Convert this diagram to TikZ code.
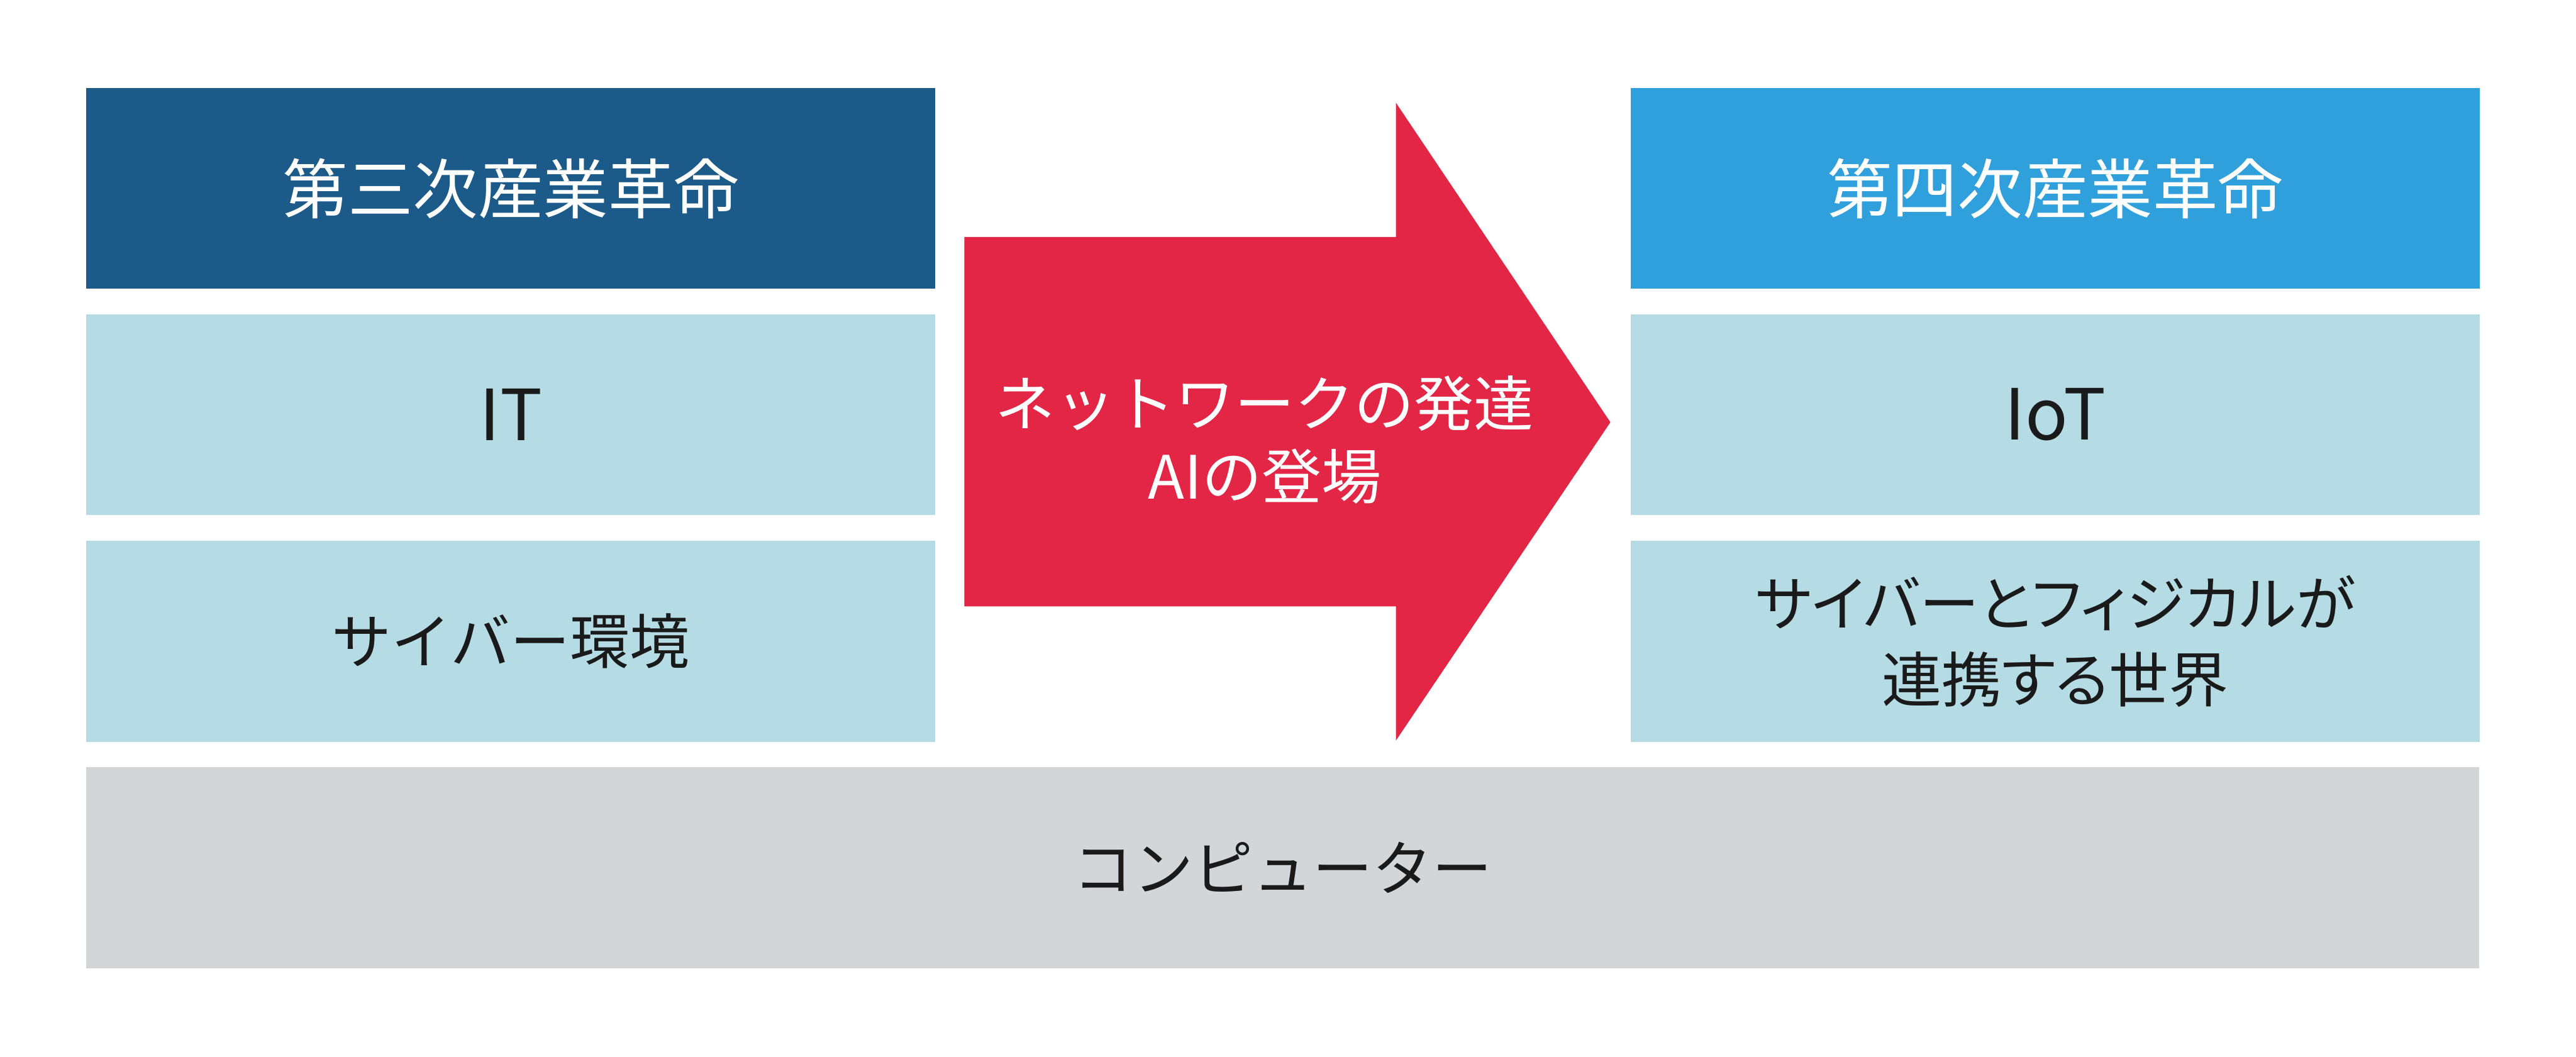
\documentclass[tikz,border=0pt]{standalone}
\usepackage{fontspec}
\setmainfont{Noto Sans CJK JP}
\newfontfamily\kanapalt[RawFeature=+palt]{Noto Sans CJK JP}
\usetikzlibrary{positioning}

\definecolor{thirdblue}{HTML}{1B5A89}
\definecolor{fourthblue}{HTML}{2FA0DC}
\definecolor{paleblue}{HTML}{B5DCE5}
\definecolor{basegray}{HTML}{D2D6D8}
\definecolor{shiftred}{HTML}{E32645}
\definecolor{inktext}{HTML}{1A1A1A}

\begin{document}
\begin{tikzpicture}[
    font=\fontsize{28}{34}\selectfont,
    box/.style={rectangle, minimum width=13.97cm, minimum height=3.31cm, inner sep=0pt, align=center, fill=#1, text=inktext},
    head/.style={box=#1, text=white, font=\fontsize{30.5}{36}\selectfont},
    tech/.style={box=paleblue, font=\fontsize{33}{38}\selectfont},
    shiftlabel/.style={align=center, text=white, font=\fontsize{28}{34.4}\selectfont}
]
\useasboundingbox (0,0) rectangle (42.39,17.39);

% Left column: third industrial revolution
\node[head=thirdblue] (gen3) at (8.405, 14.29) {第三次産業革命};
\node[tech] (it3) at (8.405, 10.565) {IT};
\node[box=paleblue] (cyber3) at (8.405, 6.835) {サイバー環境};

% Right column: fourth industrial revolution
\node[head=fourthblue] (gen4) at (33.82, 14.29) {第四次産業革命};
\node[tech] (iot4) at (33.82, 10.565) {IoT};
\node[box=paleblue, font=\kanapalt\fontsize{28}{35.5}\selectfont] (cps4) at (33.82, 6.835) {サイバーとフィジカルが\\連携する世界};

% Common base
\node[box=basegray, minimum width=39.38cm] (computer) at (21.11, 3.105) {コンピューター};

% Big arrow in between
\fill[shiftred] (15.87,13.49) -- (22.97,13.49) -- (22.97,15.70) -- (26.50,10.44)
    -- (22.97,5.20) -- (22.97,7.41) -- (15.87,7.41) -- cycle;
\node[shiftlabel] (netai) at (20.81, 10.15) {ネットワークの発達\\AIの登場};

\end{tikzpicture}
\end{document}
